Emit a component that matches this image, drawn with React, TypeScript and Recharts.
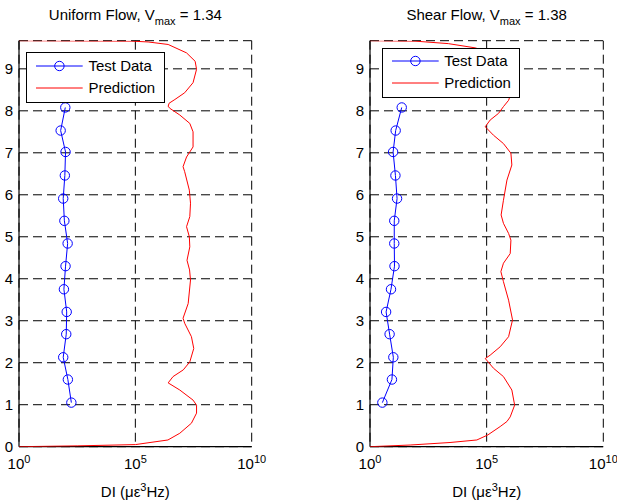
import { ScatterChart, Scatter, XAxis, YAxis, CartesianGrid, Legend } from 'recharts'

const FONT = '"Liberation Sans", Arial, Helvetica, sans-serif'

// gauge heights along the span (shared by both test runs)
const gaugeHeights = [1.05, 1.6, 2.13, 2.68, 3.21, 3.75, 4.3, 4.84, 5.38, 5.91, 6.46, 7.02, 7.53, 8.08]

// measured damage index, as log10(DI)
const uniformTestLog = [2.25, 2.1, 1.9, 2.03, 2.05, 1.93, 2.0, 2.09, 1.95, 1.9, 1.97, 2.0, 1.79, 1.99]
const shearTestLog = [0.53, 0.94, 1.0, 0.84, 0.69, 0.9, 1.05, 1.04, 1.04, 1.16, 1.09, 0.99, 1.1, 1.36]

// predicted profiles, heights + log10(DI)
const uniformPredHeights = [
  0, 0.02, 0.05, 0.16, 0.32, 0.56, 0.8, 0.99, 1.11, 1.35, 1.52, 1.67, 1.83, 2.02, 2.34, 2.62, 2.94, 3.06,
  3.41, 3.97, 4.21, 4.44, 4.76, 5.0, 5.24, 5.48, 5.8, 6.11, 6.55, 6.67, 6.9, 7.14, 7.5, 7.7, 7.9, 8.06,
  8.11, 8.18, 8.27, 8.43, 8.67, 8.99, 9.18, 9.38, 9.58, 9.64, 9.66, 9.67,
]
const uniformPredLog = [
  0, 2.5, 5.0, 6.4, 6.91, 7.41, 7.63, 7.63, 7.48, 6.91, 6.41, 6.62, 7.06, 7.34, 7.51, 7.41, 7.12, 7.05,
  7.27, 7.37, 7.33, 7.22, 7.34, 7.32, 7.2, 7.34, 7.37, 7.32, 7.12, 7.05, 7.2, 7.48, 7.48, 7.34, 6.91, 6.48,
  6.41, 6.45, 6.7, 7.12, 7.48, 7.63, 7.57, 7.2, 6.41, 5.55, 4.84, 0,
]
const shearPredHeights = [
  0, 0.04, 0.1, 0.16, 0.28, 0.48, 0.6, 0.71, 0.99, 1.35, 1.67, 1.87, 2.1, 2.18, 2.38, 2.62, 3.02, 3.49,
  3.93, 4.17, 4.37, 4.6, 4.92, 5.08, 5.32, 5.52, 5.87, 6.35, 6.71, 6.99, 7.22, 7.42, 7.62, 7.78, 7.94,
  8.1, 8.25, 8.5, 8.8, 9.1, 9.35, 9.5, 9.6, 9.66, 9.67,
]
const shearPredLog = [
  0, 1.72, 3.43, 4.58, 5.05, 5.58, 5.87, 6.01, 6.2, 6.08, 5.72, 5.29, 4.94, 5.15, 5.58, 5.94, 6.11, 5.94,
  5.72, 5.61, 5.72, 6.01, 6.04, 5.94, 5.72, 5.62, 5.72, 5.87, 6.08, 6.04, 5.72, 5.29, 4.94, 5.15, 5.51,
  5.72, 5.94, 6.1, 6.2, 6.0, 5.4, 4.5, 3.36, 1.93, 0,
]

const seriesNames = ['Test Data', 'Prediction']
const xTicks = [1, 1e5, 1e10]
const yTicks = [0, 1, 2, 3, 4, 5, 6, 7, 8, 9]
const yMax = 9.67

const toPoints = (heights: number[], logs: number[]) =>
  heights.map((h, i) => ({ x: 10 ** logs[i], y: h }))

const PowTick = ({ x, y, payload }: any) => {
  const e = Math.round(Math.log10(payload.value))
  return (
    <text x={x} y={y + 22.3} textAnchor="middle" fontSize={15} fill="#000">
      10
      <tspan dy={-6} fontSize={11}>
        {e}
      </tspan>
    </text>
  )
}

const HollowCircle = (p: any) => (
  <circle cx={p.cx} cy={p.cy} r={4.7} fill="none" stroke="#0000ff" strokeWidth={1} />
)
const NoMarker = () => <g />

const LegendBox = ({ payload }: any) => {
  const items = [...(payload || [])].sort(
    (a: any, b: any) => seriesNames.indexOf(a.value) - seriesNames.indexOf(b.value)
  )
  return (
    <div
      style={{
        width: '100%',
        height: '100%',
        boxSizing: 'border-box',
        border: '1px solid #000',
        background: '#fff',
        paddingTop: 1.5,
        fontFamily: FONT,
      }}
    >
      {items.map((entry: any) => (
        <div key={entry.value} style={{ display: 'flex', alignItems: 'center', height: 22 }}>
          <svg width={61.5} height={22} style={{ display: 'block' }}>
            <line x1={9} x2={55.7} y1={11} y2={11} stroke={entry.color} strokeWidth={1} />
            {entry.value === 'Test Data' && (
              <circle cx={32.4} cy={11} r={4.7} fill="none" stroke={entry.color} />
            )}
          </svg>
          <span style={{ fontSize: 15, color: '#000', whiteSpace: 'nowrap', lineHeight: '22px' }}>
            {entry.value}
          </span>
        </div>
      ))}
    </div>
  )
}

type PanelProps = {
  title: string
  vmax: string
  test: { x: number; y: number }[]
  pred: { x: number; y: number }[]
  width: number
  yAxisWidth: number
  marginRight: number
  legendLeft: number
  legendTop: number
}

const Panel = ({ title, vmax, test, pred, width, yAxisWidth, marginRight, legendLeft, legendTop }: PanelProps) => (
  <ScatterChart width={width} height={504} margin={{ top: 40.7, right: marginRight, bottom: 0, left: 0 }}>
    <CartesianGrid stroke="#000" strokeDasharray="9 5" />
    <XAxis
      dataKey="x"
      type="number"
      scale="log"
      domain={[1, 1e10]}
      ticks={xTicks}
      interval={0}
      allowDataOverflow
      height={57.3}
      tickLine={false}
      tickSize={0}
      tickMargin={0}
      axisLine={{ stroke: '#000', strokeWidth: 1.2 }}
      tick={<PowTick />}
      label={({ viewBox }: any) => {
        const cx = viewBox.x + viewBox.width / 2
        return (
          <g>
            <text x={cx} y={viewBox.y + 50.3} textAnchor="middle" fontSize={15} fill="#000">
              DI (με
              <tspan dy={-6} fontSize={11}>
                3
              </tspan>
              <tspan dy={6}>Hz)</tspan>
            </text>
            <text x={cx} y={20} textAnchor="middle" fontSize={15} fill="#000">
              {title}, V
              <tspan dy={5} fontSize={11}>
                max
              </tspan>
              <tspan dy={-5}> = {vmax}</tspan>
            </text>
          </g>
        )
      }}
    />
    <XAxis
      xAxisId="top"
      orientation="top"
      type="number"
      scale="log"
      domain={[1, 1e10]}
      ticks={xTicks}
      height={0}
      tick={false}
      tickLine={false}
      axisLine={{ stroke: '#000', strokeWidth: 1.2 }}
    />
    <YAxis
      dataKey="y"
      type="number"
      domain={[0, yMax]}
      ticks={yTicks}
      interval={0}
      allowDataOverflow
      width={yAxisWidth}
      tickLine={false}
      tickSize={0}
      tickMargin={6}
      axisLine={{ stroke: '#000', strokeWidth: 1.2 }}
      tick={{ fill: '#000', fontSize: 15 }}
    />
    <YAxis
      yAxisId="right"
      orientation="right"
      type="number"
      domain={[0, yMax]}
      width={0}
      tick={false}
      tickLine={false}
      axisLine={{ stroke: '#000', strokeWidth: 1.2 }}
    />
    <Legend
      layout="horizontal"
      verticalAlign="middle"
      align="center"
      content={LegendBox}
      wrapperStyle={{ left: legendLeft, top: legendTop, width: 138.5, height: 50.5 }}
    />
    <Scatter
      name={seriesNames[0]}
      data={test}
      fill="#0000ff"
      line={{ stroke: '#0000ff', strokeWidth: 1 }}
      shape={HollowCircle}
      isAnimationActive={false}
    />
    <Scatter
      name={seriesNames[1]}
      data={pred}
      fill="#ff0000"
      line={{ stroke: '#ff0000', strokeWidth: 1 }}
      shape={NoMarker}
      isAnimationActive={false}
    />
  </ScatterChart>
)

export default function App() {
  return (
    <div
      style={{
        position: 'absolute',
        left: 0,
        top: 0,
        width: 617,
        height: 504,
        background: '#fff',
        fontFamily: FONT,
        overflow: 'hidden',
      }}
    >
      <div style={{ position: 'absolute', left: 0, top: 0 }}>
        <Panel
          title="Uniform Flow"
          vmax="1.34"
          test={toPoints(gaugeHeights, uniformTestLog)}
          pred={toPoints(uniformPredHeights, uniformPredLog)}
          width={280}
          yAxisWidth={19}
          marginRight={28.3}
          legendLeft={26}
          legendTop={52.3}
        />
      </div>
      <div style={{ position: 'absolute', left: 310, top: 0 }}>
        <Panel
          title="Shear Flow"
          vmax="1.38"
          test={toPoints(gaugeHeights, shearTestLog)}
          pred={toPoints(shearPredHeights, shearPredLog)}
          width={307}
          yAxisWidth={60}
          marginRight={13.7}
          legendLeft={71.7}
          legendTop={47.7}
        />
      </div>
    </div>
  )
}
